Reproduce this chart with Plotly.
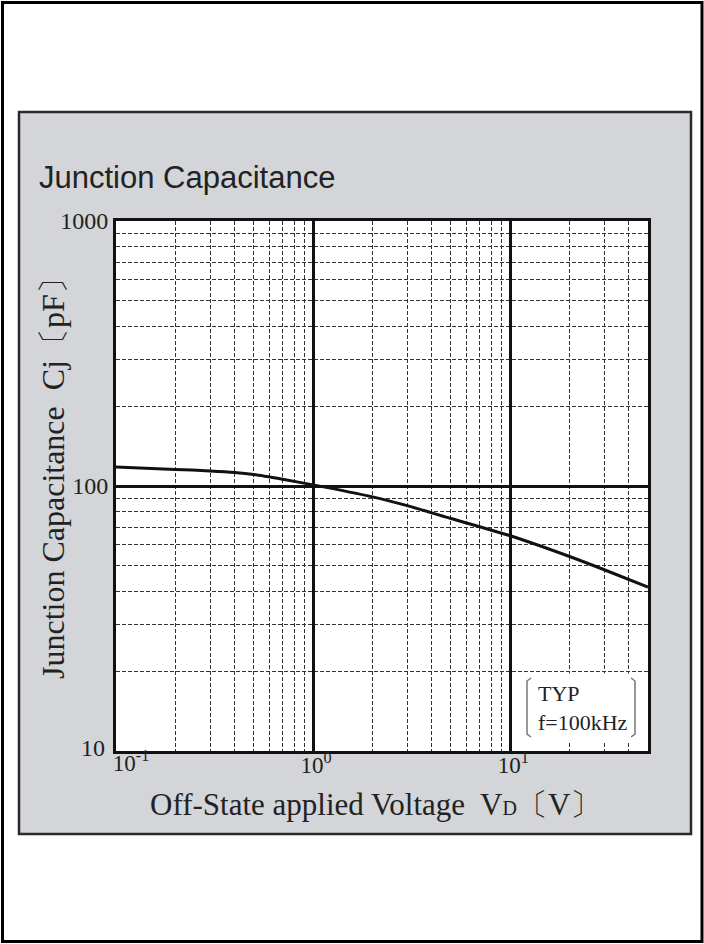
import plotly.graph_objects as go
import numpy as np

# ---- data ----
voltage_v = [0.1, 0.2, 0.3, 0.4, 0.5, 0.7, 1.0, 2.0, 3.0, 5.0, 10.0, 20.0, 30.0, 50.0]
capacitance_pf = [118, 115.5, 114, 112.5, 110.5, 106, 101, 91, 84.3, 75.4, 64.9, 54.2, 48.3, 41.5]

x_tick_vals = [1, 10]
x_tick_text = ["10<sup>0</sup>", "10<sup>1</sup>"]
x_first_tick_val = [0.1]
x_first_tick_text = ["10<sup>-1</sup>"]
y_tick_vals = [100, 1000]
y_tick_text = ["100", "1000"]
y_first_tick_val = [10]
y_first_tick_text = ["10"]
x_minor_vals = [m * d for d in (0.1, 1, 10) for m in range(2, 10) if m * d <= 50]
y_minor_vals = [m * d for d in (10, 100) for m in range(2, 10)]

W, H = 704, 944
L, R, T, B = 116, 648, 221, 751   # plot area in pixels


def px(x):
    return (x - L) / (R - L)


def py(y):
    return (B - y) / (B - T)


fig = go.Figure()
fig.add_trace(go.Scatter(
    x=voltage_v, y=capacitance_pf, mode="lines",
    line=dict(color="#111111", width=3, shape="spline", smoothing=0.6),
    hoverinfo="skip", showlegend=False,
))
# empty trace that only carries the extra label axes
fig.add_trace(go.Scatter(x=[], y=[], xaxis="x2", yaxis="y2", mode="lines",
                         hoverinfo="skip", showlegend=False))

serif = "Liberation Serif, Times New Roman, serif"
sans = "Liberation Sans, Arial, sans-serif"
grid_dash = "4px,2px"
x_range = [-1, np.log10(50)]
y_range = [1, 3]

fig.update_layout(
    xaxis=dict(
        type="log", range=x_range,
        tickmode="array", tickvals=x_tick_vals, ticktext=x_tick_text,
        ticks="", ticklabelstandoff=-9, ticklabelshift=3,
        showgrid=True, gridcolor="#111111", gridwidth=2.5,
        showline=True, linecolor="#111111", linewidth=3, mirror=True,
        zeroline=False,
        tickfont=dict(family=serif, size=23, color="#222222"),
        minor=dict(tickmode="array", tickvals=x_minor_vals, showgrid=True,
                   gridcolor="#333333", gridwidth=1, griddash=grid_dash, ticks=""),
    ),
    xaxis2=dict(
        type="log", range=x_range, overlaying="x", anchor="y2", side="bottom",
        tickmode="array", tickvals=x_first_tick_val, ticktext=x_first_tick_text,
        ticks="", ticklabelstandoff=-4, ticklabelshift=15,
        showgrid=False, showline=False, zeroline=False,
        tickfont=dict(family=serif, size=23, color="#222222"),
    ),
    yaxis=dict(
        type="log", range=y_range,
        tickmode="array", tickvals=y_tick_vals, ticktext=y_tick_text,
        ticks="", showgrid=True, gridcolor="#111111", gridwidth=2.5,
        showline=True, linecolor="#111111", linewidth=3, mirror=True,
        zeroline=False,
        tickfont=dict(family=serif, size=24, color="#222222"),
        minor=dict(tickmode="array", tickvals=y_minor_vals, showgrid=True,
                   gridcolor="#333333", gridwidth=1, griddash=grid_dash, ticks=""),
    ),
    yaxis2=dict(
        type="log", range=y_range, overlaying="y", anchor="x2", side="left",
        tickmode="array", tickvals=y_first_tick_val, ticktext=y_first_tick_text,
        ticks="", ticklabelstandoff=10, ticklabelshift=-3,
        showgrid=False, showline=False, zeroline=False,
        tickfont=dict(family=serif, size=24, color="#222222"),
    ),
)

shapes = [
    # outer frame
    dict(type="rect", xref="paper", yref="paper", layer="below",
         x0=px(2.5), x1=px(702), y0=py(941.5), y1=py(2.5),
         line=dict(color="#000000", width=3), fillcolor="#ffffff"),
    # grey panel
    dict(type="rect", xref="paper", yref="paper", layer="below",
         x0=px(19), x1=px(691), y0=py(834), y1=py(112),
         line=dict(color="#2a2a2a", width=2.5), fillcolor="#d3d5d8"),
    # white plot area
    dict(type="rect", xref="paper", yref="paper", layer="below",
         x0=0, x1=1, y0=0, y1=1, line=dict(width=0), fillcolor="#ffffff"),
    # white box behind the note
    dict(type="rect", xref="paper", yref="paper", layer="above",
         x0=px(514), x1=px(646.5), y0=py(742), y1=py(673.5),
         line=dict(width=0), fillcolor="#ffffff"),
    # left bracket
    dict(type="path", xref="paper", yref="paper", layer="above",
         path=(f"M {px(531)},{py(678)} L {px(527)},{py(681)} L {px(527)},{py(734)} "
               f"L {px(531)},{py(737)}"),
         line=dict(color="#777777", width=1.5)),
    # right bracket
    dict(type="path", xref="paper", yref="paper", layer="above",
         path=(f"M {px(631)},{py(678)} L {px(635)},{py(681)} L {px(635)},{py(734)} "
               f"L {px(631)},{py(737)}"),
         line=dict(color="#777777", width=1.5)),
]

annotations = [
    dict(text="Junction Capacitance", xref="paper", yref="paper",
         x=px(37), y=py(178), xanchor="left", yanchor="middle", showarrow=False,
         font=dict(family=sans, size=31, color="#222222")),
    dict(text="Off-State applied Voltage  V<span style='font-size:20px'>D</span>〔V〕",
         xref="paper", yref="paper", x=px(375), y=py(804), xanchor="center", yanchor="middle",
         showarrow=False, font=dict(family=serif, size=31, color="#222222")),
    dict(text="Junction Capacitance  Cj〔pF〕", xref="paper", yref="paper",
         x=px(53), y=py(471), xanchor="center", yanchor="middle", textangle=-90,
         showarrow=False, font=dict(family=serif, size=32, color="#222222")),
    dict(text="TYP<br>f=100kHz", xref="paper", yref="paper",
         x=px(536), y=py(708), xanchor="left", yanchor="middle", align="left",
         showarrow=False, font=dict(family=serif, size=22, color="#222222")),
]

fig.update_layout(
    width=W, height=H,
    margin=dict(l=L, r=W - R, t=T, b=H - B, pad=0),
    paper_bgcolor="#ffffff", plot_bgcolor="#ffffff",
    shapes=shapes, annotations=annotations, showlegend=False,
)

fig.write_html("out.html", config={"displayModeBar": False},
               post_script="document.body.style.margin='0';")
